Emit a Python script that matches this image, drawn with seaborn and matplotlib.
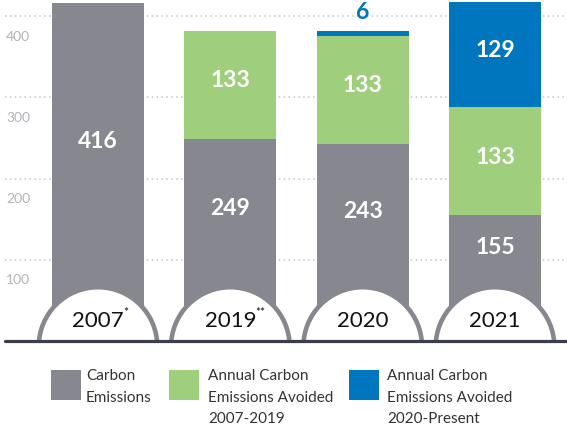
import numpy as np
import pandas as pd
import matplotlib
matplotlib.use('Agg')
import matplotlib.pyplot as plt
from matplotlib.patches import Ellipse, Rectangle
import seaborn as sns

years = ['2007', '2019', '2020', '2021']
year_marks = ['*', '**', '', '']
carbon = [416, 249, 243, 155]
avoided_0719 = [0, 133, 133, 133]
avoided_2020 = [0, 0, 6, 129]
y_ticks = [100, 200, 300, 400]
legend_labels = ['Carbon\nEmissions',
                 'Annual Carbon\nEmissions Avoided\n2007-2019',
                 'Annual Carbon\nEmissions Avoided\n2020-Present']

GRAY = '#86878f'
GREEN = '#9fcf7d'
BLUE = '#0076be'
colors = [GRAY, GREEN, BLUE]

sns.set_theme(style='white')
plt.rcParams['font.family'] = ['Lato', 'DejaVu Sans']

df = pd.DataFrame({'year': years, 'carbon': carbon,
                   'a0719': avoided_0719, 'a2020': avoided_2020})
df['mid'] = df['carbon'] + df['a0719']
df['total'] = df['mid'] + df['a2020']

W, H = 567, 428
fig = plt.figure(figsize=(W / 100, H / 100), dpi=100)
base_px = 341
ytop = 420
ax = fig.add_axes([5 / W, (H - base_px) / H, 562 / W, base_px / H])

# stacked bars: draw cumulative totals from the top layer down
bw = 0.695
sns.barplot(data=df, x='year', y='total', color=BLUE, saturation=1, width=bw,
            errorbar=None, linewidth=0, ax=ax, zorder=2)
sns.barplot(data=df, x='year', y='mid', color=GREEN, saturation=1, width=bw,
            errorbar=None, linewidth=0, ax=ax, zorder=2)
sns.barplot(data=df, x='year', y='carbon', color=GRAY, saturation=1, width=bw,
            errorbar=None, linewidth=0, ax=ax, zorder=2)

ax.set_xlim(-0.703, 3.544)
ax.set_ylim(0, ytop)
ax.set_xticks([])
ax.set_yticks([])
ax.set_xlabel('')
ax.set_ylabel('')
for s in ax.spines.values():
    s.set_visible(False)

# dotted grid + labels sitting under each line
for v in y_ticks:
    ax.axhline(v, color='#c4c5ca', lw=1.1, ls=(0, (1, 2.2)), zorder=0)
    ax.text(0.002, v - 25, str(v), transform=ax.get_yaxis_transform(),
            ha='left', va='center', fontsize=10, color='#b3b4ba')

# half circles with year labels
px_x = 562 / (3.544 + 0.703)
px_y = base_px / ytop
r = 59.3
circ_top = (r - 5.5) / px_y
for i, (yr, mk) in enumerate(zip(years, year_marks)):
    e = Ellipse((i, -5.5 / px_y), 2 * r / px_x, 2 * r / px_y,
                facecolor='white', edgecolor=GRAY, lw=3.3, zorder=3)
    ax.add_patch(e)
    t = ax.text(i, 25, yr, ha='center', va='center', fontsize=16,
                color='#111111', zorder=4)
    if mk:
        ax.annotate(mk, xy=(1, 1), xycoords=t, xytext=(-0.5, 3),
                    textcoords='offset points', ha='left', va='top',
                    fontsize=8.5, color='#111111', zorder=4)

ax.axhline(0, color='#3b3d48', lw=2.3, zorder=5, clip_on=False)

# value labels
for i, row in df.iterrows():
    segs = [(0, row['carbon']), (row['carbon'], row['mid']),
            (row['mid'], row['total'])]
    for k, (lo, hi) in enumerate(segs):
        val = hi - lo
        if val <= 0:
            continue
        if val < 20:
            ax.text(i, hi + 23, f'{val:g}', ha='center', va='center',
                    fontsize=16.5, fontweight='bold', color=BLUE, zorder=4)
            continue
        y = (max(lo, circ_top) + min(hi, ytop)) / 2 + 5
        ax.text(i, y, f'{val:g}', ha='center', va='center', fontsize=16.5,
                fontweight='bold', color='white', zorder=4)

# legend
sq_x = [51, 169, 349]
tx_x = [86, 208, 387]
for c, sx, tx, lab in zip(colors, sq_x, tx_x, legend_labels):
    fig.add_artist(Rectangle((sx / W, (H - 400) / H), 30 / W, 30 / H,
                             transform=fig.transFigure, facecolor=c,
                             edgecolor='none'))
    fig.text(tx / W, (H - 369) / H, lab, ha='left', va='top', fontsize=11,
             color='#333333', linespacing=1.7)

fig.savefig('out.png', dpi=100)
